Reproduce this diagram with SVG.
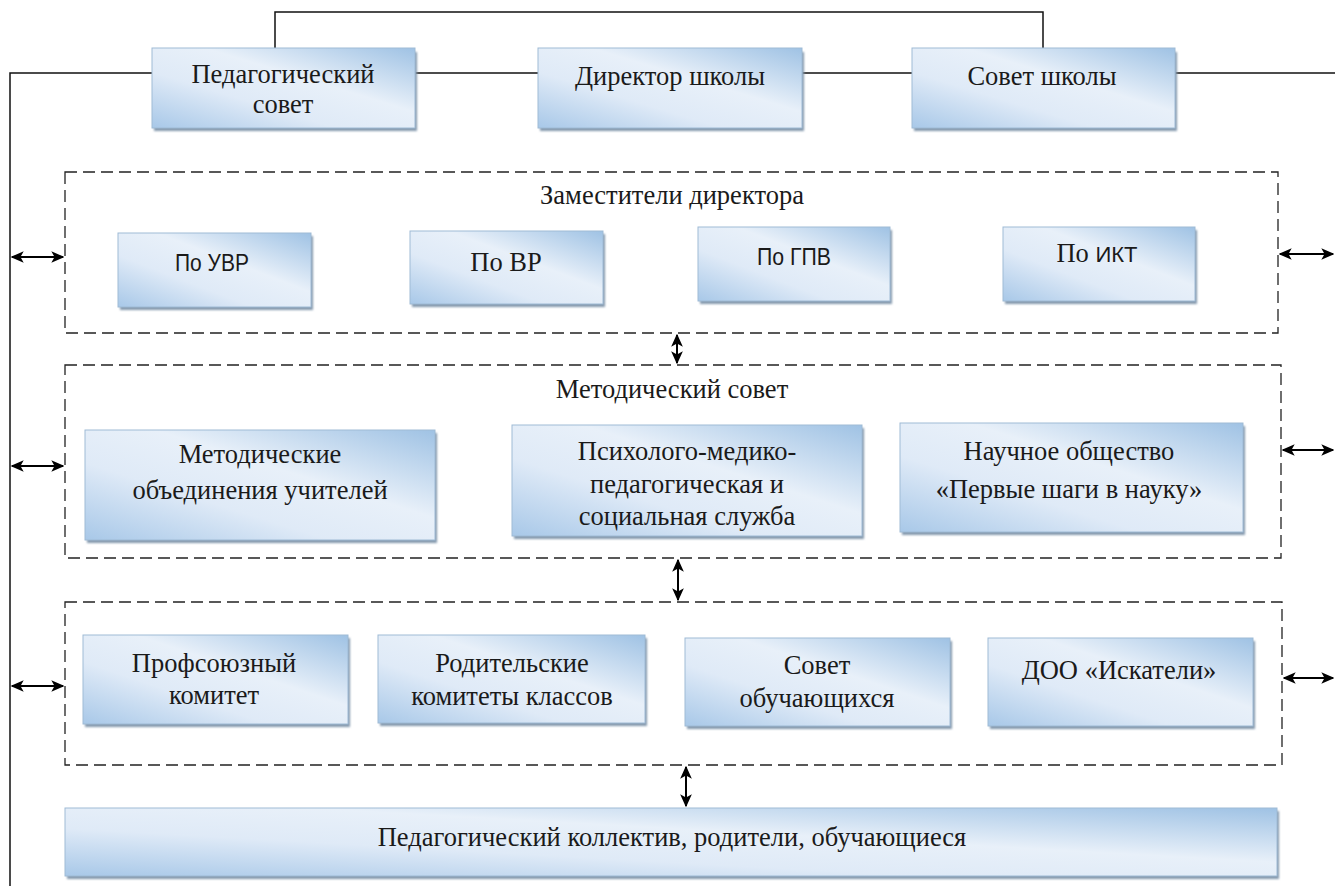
<svg xmlns="http://www.w3.org/2000/svg" width="1335" height="886" viewBox="0 0 1335 886">
<defs>
<linearGradient id="g" x1="0" y1="1" x2="1" y2="0">
<stop offset="0" stop-color="#a8c8e8"/>
<stop offset="0.35" stop-color="#dfeaf7"/>
<stop offset="0.6" stop-color="#e8f0f9"/>
<stop offset="1" stop-color="#9fc2e4"/>
</linearGradient>
<filter id="blur" x="-5%" y="-5%" width="110%" height="120%"><feGaussianBlur stdDeviation="1.2"/></filter>
<marker id="ah" viewBox="0 0 10 10" refX="9" refY="5" markerWidth="6.5" markerHeight="6.5" orient="auto-start-reverse" markerUnits="strokeWidth">
<path d="M0,0.5 L10,5 L0,9.5 L2.5,5 Z" fill="#000"/>
</marker>
</defs>
<style>
.box{fill:url(#g);stroke:#9fbbd5;stroke-width:1}
.sh{fill:#8499ad;filter:url(#blur)}
.t{font-family:"Liberation Serif","Times New Roman",serif;font-size:26.5px;fill:#1a1a1a;text-anchor:middle}
.s{font-family:"Liberation Sans",Arial,sans-serif;font-size:23px;fill:#1a1a1a;text-anchor:middle}
.dash{fill:none;stroke:#222;stroke-width:1.3;stroke-dasharray:12,6}
.ln{fill:none;stroke:#111;stroke-width:1.5}
.ar{fill:none;stroke:#000;stroke-width:2;marker-start:url(#ah);marker-end:url(#ah)}
</style>
<rect width="1335" height="886" fill="#fff"/>

<g id="connectors">
<path class="ln" d="M275,48 V12 H1043 V48"/>
<path class="ln" d="M152,73 H10 V886"/>
<path class="ln" d="M415,73 H538"/>
<path class="ln" d="M802,73 H912"/>
<path class="ln" d="M1175,73 H1335"/>
<line class="ar" x1="12" y1="257" x2="63" y2="257"/>
<line class="ar" x1="12" y1="466" x2="63" y2="466"/>
<line class="ar" x1="12" y1="686" x2="63" y2="686"/>
<line class="ar" x1="1280" y1="254" x2="1333" y2="254"/>
<line class="ar" x1="1283" y1="450" x2="1333" y2="450"/>
<line class="ar" x1="1284" y1="678" x2="1333" y2="678"/>
<line class="ar" x1="677" y1="335" x2="677" y2="363"/>
<line class="ar" x1="678" y1="560" x2="678" y2="600"/>
<line class="ar" x1="686" y1="767" x2="686" y2="806"/>
</g>

<g id="zam-group">
<rect class="dash" x="65" y="172" width="1213" height="161"/>
<text class="t" x="672" y="204">Заместители директора</text>
</g>
<g id="met-group">
<rect class="dash" x="65" y="365" width="1216" height="193"/>
<text class="t" x="672" y="398">Методический совет</text>
</g>
<g id="low-group">
<rect class="dash" x="65" y="602" width="1217" height="163"/>
</g>

<g id="ped-sovet">
<rect class="sh" x="154" y="52" width="263" height="79"/>
<rect class="box" x="152" y="48" width="263" height="80"/>
<text class="t" x="283" y="83">Педагогический</text>
<text class="t" x="283" y="113">совет</text>
</g>
<g id="direktor">
<rect class="sh" x="540" y="52" width="264" height="79"/>
<rect class="box" x="538" y="48" width="264" height="80"/>
<text class="t" x="670" y="85">Директор школы</text>
</g>
<g id="sovet-shkoly">
<rect class="sh" x="914" y="52" width="263" height="79"/>
<rect class="box" x="912" y="48" width="263" height="80"/>
<text class="t" x="1042" y="85">Совет школы</text>
</g>

<g id="po-uvr">
<rect class="sh" x="120" y="236" width="193" height="74"/>
<rect class="box" x="118" y="233" width="193" height="74"/>
<text class="s" x="212" y="271" textLength="74" lengthAdjust="spacingAndGlyphs">По УВР</text>
</g>
<g id="po-vr">
<rect class="sh" x="412" y="234" width="193" height="73"/>
<rect class="box" x="410" y="231" width="193" height="73"/>
<text class="t" x="506" y="271">По ВР</text>
</g>
<g id="po-gpv">
<rect class="sh" x="700" y="230" width="192" height="74"/>
<rect class="box" x="698" y="227" width="192" height="74"/>
<text class="s" x="794" y="265" textLength="74" lengthAdjust="spacingAndGlyphs">По ГПВ</text>
</g>
<g id="po-ikt">
<rect class="sh" x="1005" y="230" width="192" height="74"/>
<rect class="box" x="1003" y="227" width="192" height="74"/>
<text class="t" x="1097" y="262">По <tspan font-family="Liberation Sans, sans-serif" font-size="22">ИКТ</tspan></text>
</g>

<g id="mo-uchiteley">
<rect class="sh" x="87" y="433" width="350" height="110"/>
<rect class="box" x="85" y="430" width="350" height="110"/>
<text class="t" x="260" y="463">Методические</text>
<text class="t" x="260" y="499">объединения учителей</text>
</g>
<g id="pmpk">
<rect class="sh" x="514" y="428" width="350" height="111"/>
<rect class="box" x="512" y="425" width="350" height="111"/>
<text class="t" x="687" y="460">Психолого-медико-</text>
<text class="t" x="687" y="493">педагогическая и</text>
<text class="t" x="687" y="525">социальная служба</text>
</g>
<g id="nauch">
<rect class="sh" x="902" y="426" width="343" height="109"/>
<rect class="box" x="900" y="423" width="343" height="109"/>
<text class="t" x="1069" y="460">Научное общество</text>
<text class="t" x="1069" y="498">«Первые шаги в науку»</text>
</g>

<g id="profkom">
<rect class="sh" x="85" y="638" width="265" height="89"/>
<rect class="box" x="83" y="635" width="265" height="89"/>
<text class="t" x="214" y="672">Профсоюзный</text>
<text class="t" x="214" y="704">комитет</text>
</g>
<g id="rodkom">
<rect class="sh" x="380" y="638" width="267" height="88"/>
<rect class="box" x="378" y="635" width="267" height="88"/>
<text class="t" x="512" y="672">Родительские</text>
<text class="t" x="512" y="705">комитеты классов</text>
</g>
<g id="sovet-obuch">
<rect class="sh" x="687" y="641" width="265" height="88"/>
<rect class="box" x="685" y="638" width="265" height="88"/>
<text class="t" x="817" y="674">Совет</text>
<text class="t" x="817" y="707">обучающихся</text>
</g>
<g id="doo">
<rect class="sh" x="990" y="641" width="265" height="88"/>
<rect class="box" x="988" y="638" width="265" height="88"/>
<text class="t" x="1119" y="679">ДОО «Искатели»</text>
</g>

<g id="kollektiv">
<rect class="sh" x="67" y="811" width="1212" height="68"/>
<rect class="box" x="65" y="808" width="1212" height="68"/>
<text class="t" x="672" y="846">Педагогический коллектив, родители, обучающиеся</text>
</g>
</svg>
